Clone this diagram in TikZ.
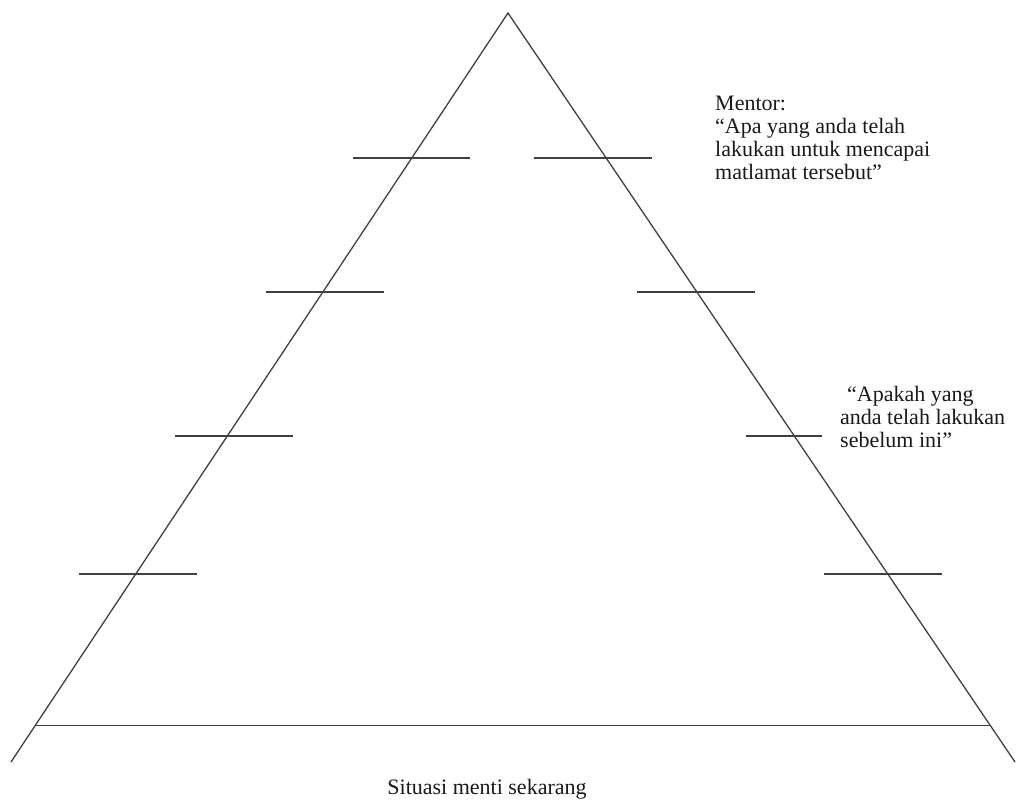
\documentclass[tikz,border=0pt]{standalone}
\usepackage{fontspec}
\setmainfont{Liberation Serif}
\usetikzlibrary{calc}
\tikzset{
  sisi/.style={draw=black!75, line width=1.3pt},
  teks/.style={font=\fontsize{22}{22.8}\selectfont, align=left, inner sep=0pt, text=black!90}
}
\begin{document}
\begin{tikzpicture}[x=1pt, y=-1pt]
\useasboundingbox (0,0) rectangle (1018,803);
% segitiga
\coordinate (puncak) at (508,13);
\coordinate (kiri) at (11,762);
\coordinate (kanan) at (1015,762);
\draw[sisi] (kiri) -- (puncak) -- (kanan);
% garis dasar
\coordinate (dasarkiri) at ($(puncak)!0.9515!(kiri)$);
\coordinate (dasarkanan) at ($(puncak)!0.9515!(kanan)$);
\draw[sisi] (dasarkiri) -- (dasarkanan);
% tanda tingkat
\foreach \y/\xa/\xb in {158/353/470, 292/266/384, 436/175/293, 574/79/197,
                        158/534/652, 292/637/755, 436/746/822, 574/824/942}
  \draw[sisi] (\xa,\y) -- (\xb,\y);
% teks
\node[teks, anchor=north west] (mentor) at (715,96)
  {Mentor:\\“Apa yang anda telah\\lakukan untuk mencapai\\matlamat tersebut”};
\node[teks, anchor=north west] (sebelum) at (840,386)
  {\hspace*{7pt}“Apakah yang\\anda telah lakukan\\sebelum ini”};
\node[teks, anchor=base] (situasi) at (487,794) {Situasi menti sekarang};
\end{tikzpicture}
\end{document}
